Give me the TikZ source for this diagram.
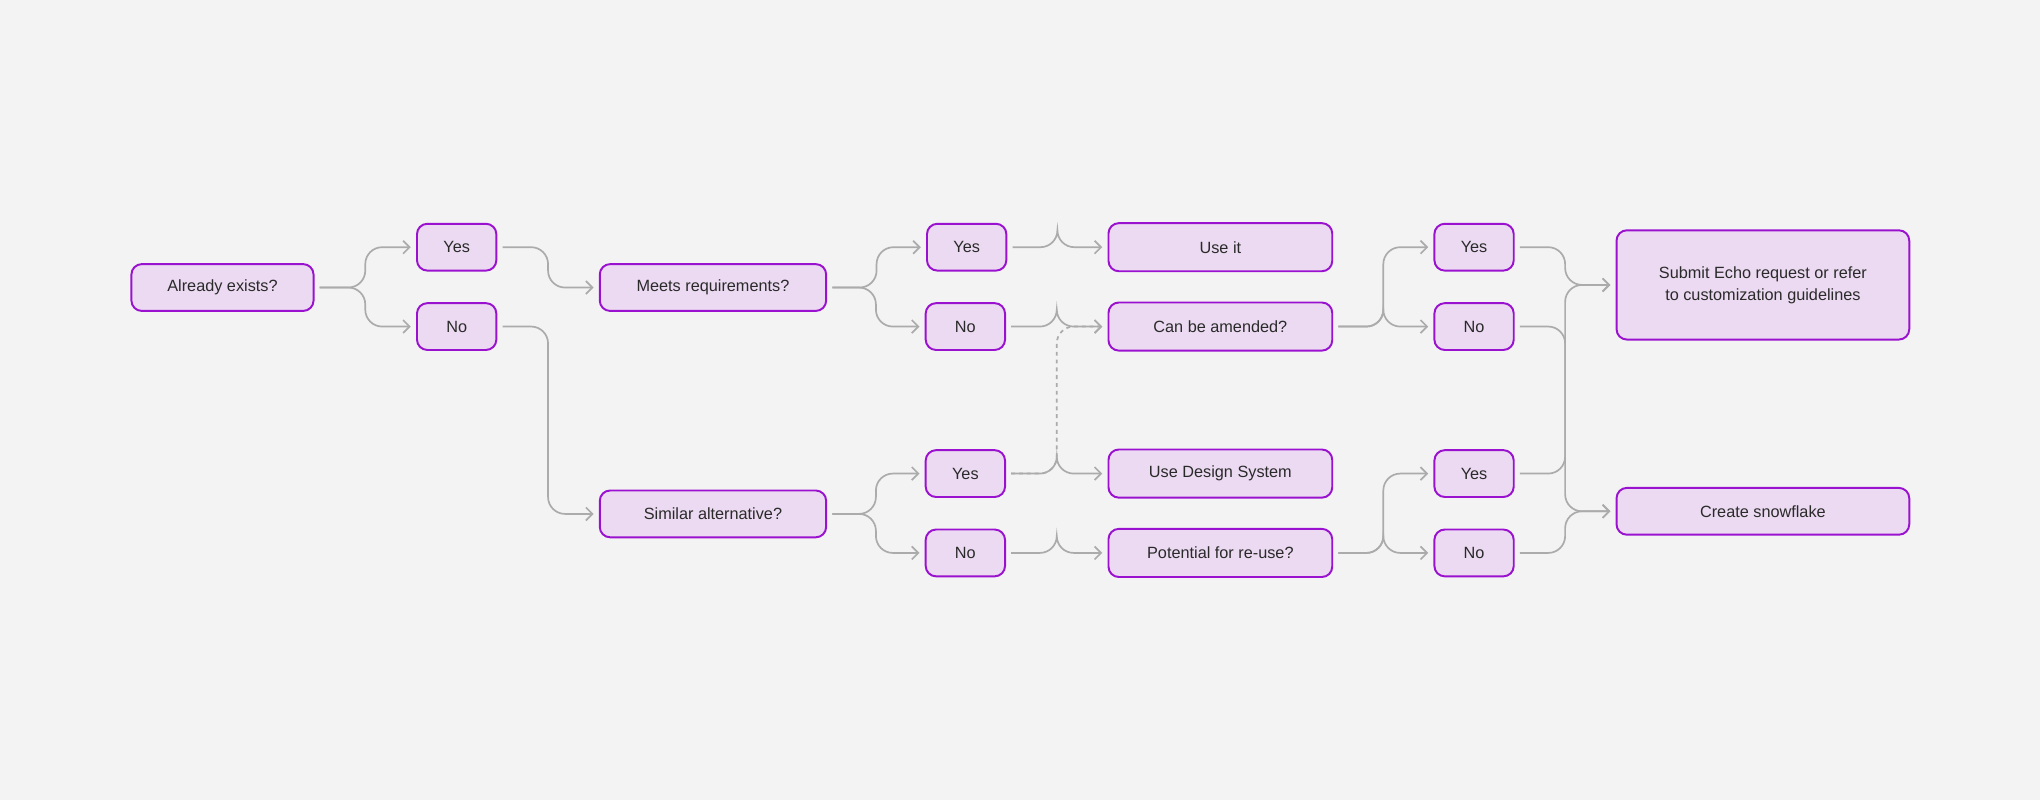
\documentclass[tikz,border=0pt]{standalone}
\usepackage{fontspec}
\setmainfont{Liberation Sans}
\usetikzlibrary{arrows.meta,calc}
\definecolor{bg}{HTML}{F3F3F3}
\definecolor{nfill}{HTML}{EBDAF1}
\definecolor{nline}{HTML}{9A12CF}
\definecolor{ln}{HTML}{ABABAB}
\definecolor{txt}{HTML}{2A2A2A}
\tikzset{
  box/.style={draw=nline,fill=nfill,line width=1.5pt,rounded corners=8pt,text=txt,font=\fontsize{12.5}{15}\selectfont,inner sep=0pt,align=center},
  sm/.style={box,minimum width=61pt,minimum height=36pt},
  md/.style={box,minimum width=172pt,minimum height=37pt},
  conn/.style={draw=ln,line width=1.3pt,rounded corners=13pt,-{Straight Barb[length=5pt,width=10pt,line width=1.3pt]}},
}
\newcommand\flowconn[3][]{%
  \draw[conn,#1] let \p1=([xshift=4pt]#2.east), \p2=([xshift=-4pt]#3.west) in
    (\p1) -- ({(\x1+\x2)/2},\y1) -- ({(\x1+\x2)/2},\y2) -- (\p2);}
\begin{document}
\begin{tikzpicture}[x=1pt,y=-1pt]
\fill[bg] (0,0) rectangle (1568,615);
\useasboundingbox (0,0) rectangle (1568,615);
\node[box,minimum width=140pt,minimum height=36pt] (a) at (171,221) {Already exists?};
\node[sm] (y1) at (351,190) {Yes};
\node[sm] (n1) at (351,251) {No};
\node[box,minimum width=174pt,minimum height=36pt] (m) at (548,221) {Meets requirements?};
\node[box,minimum width=174pt,minimum height=36pt] (s) at (548,395) {Similar alternative?};
\node[sm] (y2) at (743,190) {Yes};
\node[sm] (n2) at (742,251) {No};
\node[sm] (y4) at (742,364) {Yes};
\node[sm] (n4) at (742,425) {No};
\node[md] (u) at (938,190) {Use it};
\node[md] (c) at (938,251) {Can be amended?};
\node[md] (d) at (938,364) {Use Design System};
\node[md] (p) at (938,425) {Potential for re-use?};
\node[sm] (y3) at (1133,190) {Yes};
\node[sm] (n3) at (1133,251) {No};
\node[sm] (y5) at (1133,364) {Yes};
\node[sm] (n5) at (1133,425) {No};
\node[box,minimum width=225pt,minimum height=84pt] (sub) at (1355,219) {Submit Echo request or refer\\[2pt]to customization guidelines};
\node[box,minimum width=225pt,minimum height=36pt] (cs) at (1355,393) {Create snowflake};
\flowconn{a}{y1}
\flowconn{a}{n1}
\flowconn{y1}{m}
\flowconn{n1}{s}
\flowconn{m}{y2}
\flowconn{m}{n2}
\flowconn{y2}{u}
\flowconn{n2}{c}
\flowconn{c}{y3}
\flowconn{c}{n3}
\flowconn{y3}{sub}
\flowconn{n3}{cs}
\flowconn{s}{y4}
\flowconn{s}{n4}
\flowconn{y4}{d}
\flowconn[dashed]{y4}{c}
\flowconn{n4}{p}
\flowconn{p}{y5}
\flowconn{p}{n5}
\flowconn{y5}{sub}
\flowconn{n5}{cs}
\end{tikzpicture}
\end{document}
